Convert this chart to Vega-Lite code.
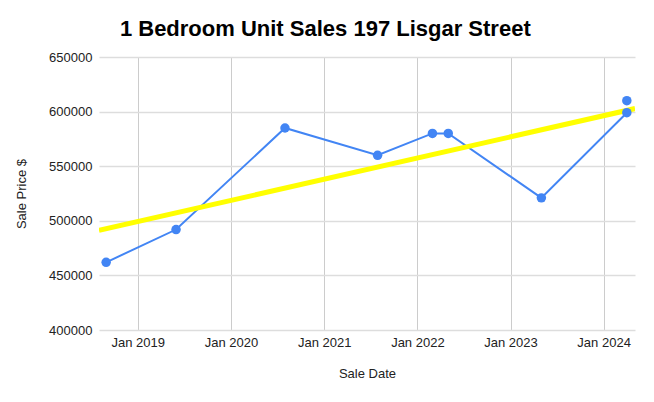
{
  "$schema": "https://vega.github.io/schema/vega-lite/v6.json",
  "width": 536,
  "height": 273,
  "autosize": {"type": "none"},
  "padding": {"left": 99, "top": 57, "right": 19, "bottom": 72},
  "background": "#ffffff",
  "config": {
    "font": "Liberation Sans",
    "view": {"stroke": null},
    "axis": {
      "labelFont": "Liberation Sans",
      "titleFont": "Liberation Sans",
      "labelFontSize": 13,
      "titleFontSize": 13,
      "labelColor": "#222222",
      "titleColor": "#222222",
      "titleFontWeight": "normal",
      "gridColor": "#cccccc",
      "gridWidth": 1,
      "domain": false,
      "ticks": false
    }
  },
  "title": {
    "text": "1 Bedroom Unit Sales 197 Lisgar Street",
    "font": "Liberation Sans",
    "fontSize": 22,
    "fontWeight": "bold",
    "color": "#000000",
    "anchor": "middle",
    "frame": "bounds",
    "offset": 10
  },
  "data": {
    "values": [
      {"date": "2018-08-30", "price": 462000, "series": "a"},
      {"date": "2019-05-31", "price": 492000, "series": "a"},
      {"date": "2020-07-31", "price": 585000, "series": "a"},
      {"date": "2021-07-29", "price": 560000, "series": "a"},
      {"date": "2022-03-01", "price": 580000, "series": "a"},
      {"date": "2022-05-02", "price": 580000, "series": "a"},
      {"date": "2023-05-02", "price": 521000, "series": "a"},
      {"date": "2024-04-01", "price": 599000, "series": "a"},
      {"date": "2024-04-01", "price": 610000, "series": "b"}
    ],
    "format": {"parse": {"date": "date"}}
  },
  "encoding": {
    "x": {
      "field": "date",
      "type": "temporal",
      "title": "Sale Date",
      "scale": {"domain": [1533168000000, 1714694400000]},
      "axis": {
        "format": "%b %Y",
        "tickCount": {"interval": "year", "step": 1},
        "labelPadding": 6,
        "titlePadding": 18,
        "gridColor": "#cccccc"
      }
    },
    "y": {
      "field": "price",
      "type": "quantitative",
      "title": "Sale Price $",
      "scale": {"domain": [400000, 650000], "nice": false, "zero": false},
      "axis": {
        "format": "d",
        "values": [400000, 450000, 500000, 550000, 600000, 650000],
        "labelPadding": 7,
        "titlePadding": 20,
        "gridColor": "#dddddd",
        "gridWidth": 1.5
      }
    }
  },
  "layer": [
    {
      "mark": {"type": "line", "color": "#4285f4", "strokeWidth": 2},
      "encoding": {"detail": {"field": "series"}}
    },
    {
      "transform": [
        {"regression": "price", "on": "date", "extent": [1533168000000, 1714694400000]}
      ],
      "mark": {"type": "line", "color": "#ffff00", "strokeWidth": 5, "clip": true}
    },
    {
      "mark": {"type": "point", "filled": true, "color": "#4285f4", "size": 90, "opacity": 1}
    }
  ]
}
